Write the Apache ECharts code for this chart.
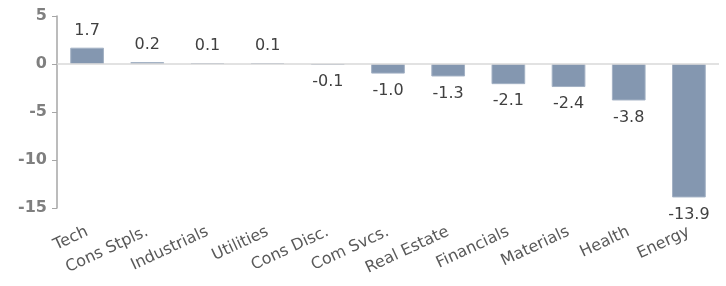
<!DOCTYPE html>
<html>
<head>
<meta charset="utf-8">
<script src="https://cdn.jsdelivr.net/npm/echarts@6/dist/echarts.min.js"></script>
<style>
  html, body { margin: 0; padding: 0; background: #fff; }
  #chart { width: 726px; height: 286px; }
</style>
</head>
<body>
<div id="chart"></div>
<script>
var sectors = ["Tech", "Cons Stpls.", "Industrials", "Utilities", "Cons Disc.", "Com Svcs.",
    "Real Estate", "Financials", "Materials", "Health", "Energy"];
var values = [1.7, 0.2, 0.1, 0.1, -0.1, -1.0, -1.3, -2.1, -2.4, -3.8, -13.9];

var font = "'DejaVu Sans', 'Liberation Sans', sans-serif";

var option = {
    animation: false,
    grid: { left: 57, right: 7, top: 16, bottom: 78 },
    xAxis: {
        type: "category",
        data: sectors,
        axisLine: { show: false, onZero: false },
        axisTick: { show: false },
        axisLabel: {
            interval: 0,
            rotate: 25,
            margin: 23,
            color: "#595959",
            fontSize: 16,
            fontFamily: font
        }
    },
    yAxis: {
        type: "value",
        min: -15,
        max: 5,
        interval: 5,
        axisLine: { show: true, lineStyle: { color: "#a6a6a6", width: 1.5 } },
        axisTick: { show: true, length: 5, lineStyle: { color: "#a6a6a6" } },
        splitLine: { show: false },
        axisLabel: {
            color: "#7f7f7f",
            fontSize: 16,
            fontWeight: "bold",
            fontFamily: font,
            margin: 10
        }
    },
    series: [{
        type: "bar",
        data: values,
        barWidth: "56%",
        itemStyle: { color: "#8497b0", borderColor: "#a3b1c4", borderWidth: 1 },
        label: {
            show: true,
            distance: 9,
            color: "#404040",
            fontSize: 16,
            fontFamily: font,
            formatter: function (p) { return p.value.toFixed(1); }
        },
        markLine: {
            silent: true,
            symbol: "none",
            label: { show: false },
            lineStyle: { color: "#d9d9d9", width: 1.5, type: "solid" },
            data: [{ yAxis: 0 }]
        }
    }]
};

// negative bars get their label under the bar
option.series[0].data = values.map(function (v) {
    return { value: v, label: { position: v < 0 ? "bottom" : "top" } };
});

var myChart = echarts.init(document.getElementById("chart"));
myChart.setOption(option);
</script>
</body>
</html>
